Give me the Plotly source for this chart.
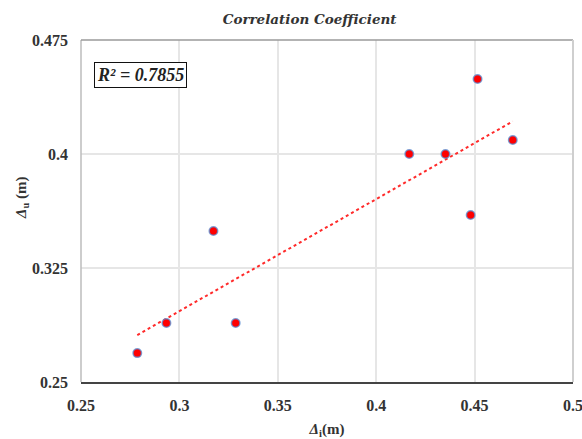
import numpy as np
import plotly.graph_objects as go

# Measured displacements (m)
delta_i = [0.2786, 0.2934, 0.3173, 0.3286, 0.4168, 0.4352, 0.4480, 0.4515, 0.4694]
delta_u = [0.2690, 0.2888, 0.3493, 0.2888, 0.4000, 0.4000, 0.3599, 0.4493, 0.4092]

x_ticks = [0.25, 0.3, 0.35, 0.4, 0.45, 0.5]
x_tick_text = ["0.25", "0.3", "0.35", "0.4", "0.45", "0.5"]
y_ticks = [0.25, 0.325, 0.4, 0.475]
y_tick_text = ["0.25", "0.325", "0.4", "0.475"]
r2_label = "R² = 0.7855"

# Least-squares trend line across the data range
slope, intercept = np.polyfit(delta_i, delta_u, 1)
x_fit = np.array([min(delta_i), max(delta_i)])
y_fit = slope * x_fit + intercept

serif = "Liberation Serif, Times New Roman, serif"

fig = go.Figure()
fig.add_trace(go.Scatter(
    x=x_fit, y=y_fit, mode="lines",
    line=dict(color="#ff2a2a", width=2, dash="dot"),
    hoverinfo="skip", showlegend=False,
))
fig.add_trace(go.Scatter(
    x=delta_i, y=delta_u, mode="markers",
    marker=dict(size=8.5, color="#ff0000",
                line=dict(color="rgba(90,140,210,0.75)", width=1.5)),
    showlegend=False,
))

fig.update_layout(
    width=582, height=439,
    margin=dict(l=81, r=9, t=40, b=57),
    paper_bgcolor="white", plot_bgcolor="white",
    font=dict(family=serif, color="#222222"),
    title=dict(
        text="<b><i>Correlation Coefficient</i></b>",
        x=0.532, xanchor="center", y=0.955, yanchor="middle",
        font=dict(size=13.5, family="DejaVu Serif, serif", color="#333333"),
    ),
    xaxis=dict(
        range=[0.25, 0.5], tickvals=x_ticks, ticktext=x_tick_text,
        tickfont=dict(size=16, family=serif, color="#333333", weight="bold"),
        showgrid=True, gridcolor="#e6e6e6", gridwidth=1.5,
        showline=True, linecolor="#444444", linewidth=1.5,
        mirror=False, zeroline=False, ticks="",
        ticklabelstandoff=8, automargin=False, ticklabeloverflow="allow",
        title=dict(text="<b><i>Δ</i><sub>i</sub>(m)</b>",
                   font=dict(size=15, family=serif, color="#333333"),
                   standoff=14),
    ),
    yaxis=dict(
        range=[0.25, 0.475], tickvals=y_ticks, ticktext=y_tick_text,
        tickfont=dict(size=16, family=serif, color="#333333", weight="bold"),
        showgrid=True, gridcolor="#e6e6e6", gridwidth=1.5,
        showline=False, zeroline=False, ticks="",
        ticklabelstandoff=12, automargin=False, ticklabeloverflow="allow",
    ),
    shapes=[
        # plot frame: grey top, left and right edges
        dict(type="line", xref="paper", yref="paper", x0=0, x1=0, y0=0, y1=1,
             line=dict(color="#bdbdbd", width=1.5)),
        dict(type="line", xref="paper", yref="paper", x0=0, x1=1, y0=1, y1=1,
             line=dict(color="#9a9a9a", width=1.5)),
        dict(type="line", xref="paper", yref="paper", x0=1, x1=1, y0=0, y1=1,
             line=dict(color="#cfcfcf", width=2)),
    ],
    annotations=[
        dict(text="<b><i>" + r2_label + "</i></b>", xref="paper", yref="paper",
             x=0.026, y=0.935, xanchor="left", yanchor="top", showarrow=False,
             font=dict(size=18, family=serif, color="#222222"),
             bordercolor="#111111", borderwidth=1, borderpad=2, bgcolor="white"),
        # vertical axis title
        dict(text="<b><i>Δ</i><sub>u</sub> (m)</b>", xref="paper", yref="paper",
             x=0, xshift=-59, y=0.538, xanchor="center", yanchor="middle",
             textangle=-90, showarrow=False,
             font=dict(size=15, family=serif, color="#333333")),
    ],
)

fig.write_html("out.html")
